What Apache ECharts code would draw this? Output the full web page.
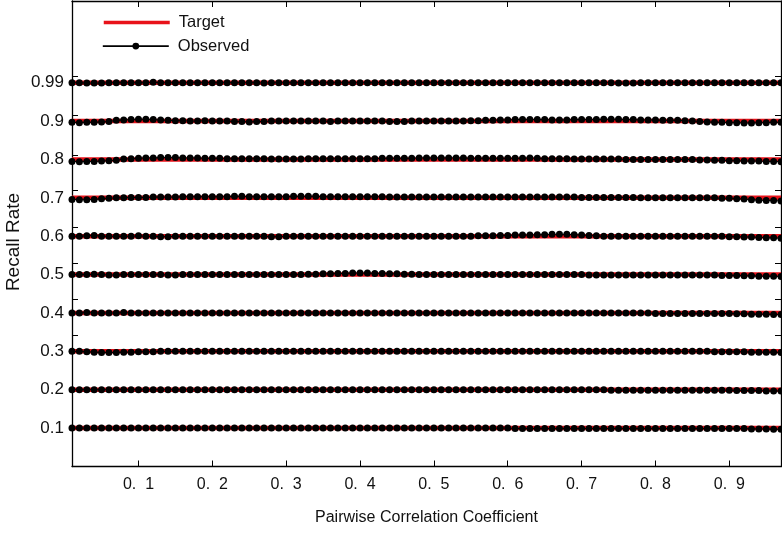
<!DOCTYPE html>
<html>
<head>
<meta charset="utf-8">
<script src="https://cdn.jsdelivr.net/npm/echarts@6/dist/echarts.min.js"></script>
<style>
html,body{margin:0;padding:0;background:#fff;}
#chart{width:782px;height:540px;}
</style>
</head>
<body>
<div id="chart"></div>
<script>
// ---- data ----
const xs = [0.01,0.02,0.03,0.04,0.05,0.06,0.07,0.08,0.09,0.10,
0.11,0.12,0.13,0.14,0.15,0.16,0.17,0.18,0.19,0.20,
0.21,0.22,0.23,0.24,0.25,0.26,0.27,0.28,0.29,0.30,
0.31,0.32,0.33,0.34,0.35,0.36,0.37,0.38,0.39,0.40,
0.41,0.42,0.43,0.44,0.45,0.46,0.47,0.48,0.49,0.50,
0.51,0.52,0.53,0.54,0.55,0.56,0.57,0.58,0.59,0.60,
0.61,0.62,0.63,0.64,0.65,0.66,0.67,0.68,0.69,0.70,
0.71,0.72,0.73,0.74,0.75,0.76,0.77,0.78,0.79,0.80,
0.81,0.82,0.83,0.84,0.85,0.86,0.87,0.88,0.89,0.90,
0.91,0.92,0.93,0.94,0.95,0.96,0.97];

const targets = [0.1,0.2,0.3,0.4,0.5,0.6,0.7,0.8,0.9,0.99];
const yLabels = ['0.1','0.2','0.3','0.4','0.5','0.6','0.7','0.8','0.9','0.99'];
const xTickValues = [0.1,0.2,0.3,0.4,0.5,0.6,0.7,0.8,0.9];
const xLabels = ['0.  1','0.  2','0.  3','0.  4','0.  5','0.  6','0.  7','0.  8','0.  9'];

const obs10 = [0.100,0.100,0.100,0.100,0.100,0.100,0.100,0.100,0.100,0.100,
0.100,0.100,0.100,0.100,0.100,0.100,0.100,0.100,0.100,0.100,
0.100,0.100,0.100,0.100,0.100,0.100,0.100,0.100,0.100,0.100,
0.100,0.100,0.100,0.100,0.100,0.100,0.100,0.100,0.100,0.100,
0.100,0.100,0.100,0.100,0.100,0.100,0.100,0.100,0.100,0.100,
0.100,0.100,0.100,0.100,0.100,0.100,0.100,0.100,0.100,0.100,
0.099,0.099,0.099,0.099,0.099,0.099,0.099,0.099,0.099,0.099,
0.099,0.099,0.099,0.099,0.099,0.099,0.099,0.099,0.099,0.099,
0.099,0.099,0.099,0.099,0.099,0.099,0.099,0.099,0.099,0.099,
0.099,0.099,0.098,0.098,0.098,0.097,0.097];

const obs20 = [0.200,0.200,0.200,0.200,0.200,0.200,0.200,0.200,0.200,0.200,
0.200,0.200,0.200,0.200,0.200,0.200,0.200,0.200,0.200,0.200,
0.200,0.200,0.200,0.200,0.200,0.200,0.200,0.200,0.200,0.200,
0.200,0.200,0.200,0.200,0.200,0.200,0.200,0.200,0.200,0.200,
0.200,0.200,0.200,0.200,0.200,0.200,0.200,0.200,0.200,0.200,
0.200,0.200,0.200,0.200,0.200,0.200,0.200,0.200,0.200,0.200,
0.200,0.200,0.200,0.200,0.200,0.200,0.200,0.200,0.200,0.200,
0.200,0.200,0.200,0.199,0.199,0.199,0.199,0.199,0.199,0.199,
0.199,0.199,0.199,0.199,0.199,0.199,0.199,0.199,0.199,0.199,
0.198,0.198,0.198,0.198,0.197,0.197,0.197];

const obs30 = [0.300,0.300,0.299,0.298,0.297,0.297,0.297,0.298,0.298,0.299,
0.299,0.299,0.300,0.300,0.300,0.300,0.300,0.300,0.300,0.300,
0.300,0.300,0.300,0.300,0.300,0.300,0.300,0.300,0.300,0.300,
0.300,0.300,0.300,0.300,0.300,0.300,0.300,0.300,0.300,0.300,
0.300,0.300,0.300,0.300,0.300,0.300,0.300,0.300,0.300,0.300,
0.300,0.300,0.300,0.300,0.300,0.300,0.300,0.300,0.300,0.300,
0.300,0.300,0.300,0.300,0.300,0.300,0.300,0.300,0.300,0.300,
0.300,0.300,0.300,0.300,0.300,0.300,0.300,0.300,0.300,0.300,
0.300,0.300,0.300,0.300,0.300,0.300,0.300,0.299,0.299,0.299,
0.299,0.299,0.298,0.298,0.298,0.298,0.297];

const obs40 = [0.400,0.400,0.401,0.400,0.400,0.400,0.400,0.401,0.400,0.400,
0.400,0.400,0.400,0.400,0.400,0.400,0.400,0.400,0.400,0.400,
0.400,0.400,0.400,0.400,0.400,0.400,0.400,0.400,0.400,0.400,
0.400,0.400,0.400,0.400,0.400,0.400,0.400,0.400,0.400,0.400,
0.400,0.400,0.400,0.400,0.400,0.400,0.400,0.400,0.400,0.400,
0.400,0.400,0.400,0.400,0.400,0.400,0.400,0.400,0.400,0.400,
0.400,0.400,0.400,0.400,0.400,0.400,0.400,0.400,0.400,0.400,
0.400,0.400,0.400,0.400,0.400,0.400,0.400,0.400,0.400,0.399,
0.399,0.399,0.399,0.399,0.399,0.399,0.399,0.399,0.399,0.399,
0.398,0.398,0.397,0.397,0.397,0.396,0.396];

const obs50 = [0.500,0.500,0.500,0.501,0.500,0.499,0.499,0.500,0.500,0.500,
0.500,0.500,0.500,0.499,0.499,0.500,0.500,0.500,0.500,0.500,
0.500,0.500,0.500,0.500,0.500,0.500,0.500,0.500,0.500,0.500,
0.500,0.500,0.501,0.501,0.502,0.502,0.503,0.503,0.504,0.504,
0.504,0.503,0.503,0.502,0.502,0.501,0.501,0.500,0.500,0.500,
0.500,0.500,0.500,0.500,0.500,0.500,0.500,0.500,0.500,0.500,
0.500,0.500,0.500,0.500,0.500,0.500,0.500,0.500,0.500,0.500,
0.499,0.499,0.499,0.499,0.499,0.499,0.499,0.499,0.499,0.499,
0.499,0.499,0.499,0.499,0.499,0.499,0.499,0.499,0.498,0.498,
0.498,0.497,0.497,0.496,0.496,0.496,0.495];

const obs60 = [0.600,0.600,0.601,0.602,0.600,0.600,0.600,0.600,0.600,0.601,
0.600,0.600,0.599,0.599,0.600,0.600,0.600,0.600,0.600,0.600,
0.600,0.600,0.600,0.600,0.600,0.600,0.600,0.599,0.599,0.600,
0.600,0.600,0.600,0.600,0.600,0.600,0.600,0.600,0.600,0.600,
0.600,0.600,0.600,0.600,0.600,0.600,0.600,0.600,0.600,0.600,
0.600,0.600,0.600,0.600,0.600,0.601,0.601,0.601,0.602,0.602,
0.603,0.603,0.603,0.604,0.604,0.605,0.605,0.605,0.604,0.603,
0.602,0.601,0.600,0.600,0.600,0.600,0.600,0.600,0.600,0.600,
0.600,0.600,0.600,0.600,0.600,0.600,0.600,0.600,0.600,0.599,
0.599,0.598,0.598,0.597,0.596,0.596,0.595];

const obs70 = [0.696,0.695,0.695,0.696,0.698,0.699,0.700,0.700,0.701,0.701,
0.701,0.702,0.702,0.702,0.702,0.703,0.703,0.703,0.703,0.703,
0.703,0.703,0.704,0.704,0.703,0.703,0.703,0.703,0.703,0.703,
0.704,0.704,0.704,0.704,0.703,0.703,0.703,0.703,0.703,0.703,
0.703,0.703,0.703,0.702,0.702,0.702,0.702,0.702,0.702,0.702,
0.702,0.702,0.702,0.702,0.702,0.702,0.702,0.702,0.702,0.702,
0.702,0.702,0.702,0.702,0.702,0.702,0.702,0.702,0.702,0.701,
0.701,0.701,0.701,0.701,0.701,0.701,0.701,0.700,0.700,0.700,
0.700,0.700,0.700,0.700,0.700,0.700,0.700,0.700,0.699,0.699,
0.698,0.697,0.695,0.694,0.693,0.693,0.692];

const obs80 = [0.795,0.794,0.795,0.795,0.796,0.797,0.798,0.801,0.802,0.803,
0.804,0.804,0.805,0.805,0.805,0.804,0.804,0.804,0.803,0.803,
0.803,0.802,0.802,0.802,0.802,0.802,0.802,0.801,0.801,0.801,
0.801,0.801,0.802,0.802,0.802,0.802,0.802,0.802,0.802,0.802,
0.802,0.802,0.803,0.803,0.803,0.803,0.803,0.804,0.804,0.804,
0.804,0.804,0.804,0.804,0.803,0.803,0.803,0.803,0.803,0.803,
0.803,0.803,0.804,0.803,0.802,0.802,0.802,0.802,0.801,0.801,
0.801,0.801,0.801,0.801,0.801,0.800,0.800,0.800,0.800,0.800,
0.800,0.800,0.800,0.800,0.800,0.799,0.799,0.798,0.798,0.797,
0.797,0.796,0.796,0.796,0.795,0.795,0.794];

const obs90 = [0.897,0.896,0.897,0.897,0.898,0.899,0.902,0.903,0.904,0.905,
0.905,0.904,0.903,0.902,0.901,0.901,0.900,0.900,0.901,0.900,
0.900,0.900,0.899,0.899,0.898,0.899,0.899,0.900,0.900,0.900,
0.900,0.900,0.900,0.900,0.900,0.899,0.900,0.900,0.900,0.900,
0.900,0.900,0.900,0.899,0.899,0.899,0.900,0.900,0.900,0.900,
0.900,0.900,0.900,0.900,0.901,0.901,0.902,0.902,0.903,0.903,
0.904,0.904,0.904,0.904,0.904,0.903,0.903,0.903,0.904,0.904,
0.904,0.904,0.905,0.905,0.905,0.904,0.904,0.903,0.903,0.903,
0.902,0.902,0.902,0.901,0.900,0.899,0.898,0.897,0.897,0.896,
0.896,0.895,0.895,0.896,0.896,0.897,0.897];

const obs99 = [0.990,0.990,0.989,0.989,0.989,0.990,0.990,0.990,0.990,0.990,
0.990,0.991,0.990,0.990,0.990,0.990,0.990,0.990,0.990,0.990,
0.990,0.990,0.990,0.990,0.990,0.990,0.989,0.990,0.990,0.990,
0.990,0.990,0.990,0.990,0.990,0.990,0.990,0.990,0.990,0.990,
0.990,0.990,0.990,0.990,0.990,0.990,0.990,0.990,0.990,0.990,
0.990,0.990,0.990,0.990,0.990,0.990,0.990,0.990,0.990,0.990,
0.990,0.990,0.990,0.990,0.990,0.990,0.990,0.990,0.990,0.990,
0.990,0.990,0.990,0.990,0.989,0.989,0.989,0.990,0.990,0.990,
0.990,0.990,0.990,0.990,0.990,0.990,0.990,0.990,0.990,0.990,
0.990,0.990,0.990,0.990,0.990,0.990,0.990];

const observed = [obs10, obs20, obs30, obs40, obs50, obs60, obs70, obs80, obs90, obs99];

// ---- layout helpers ----
// each target level occupies its own band; deviations are drawn at 0.1 per band
const BAND = 0.1;
function bandPos(k, v) { return (k + 1) + (v - targets[k]) / BAND; }

const FONT = '"Liberation Sans", Arial, Helvetica, sans-serif';
const RED = '#e8121a';

const series = [];
targets.forEach((t, k) => {
  series.push({
    name: 'Target', type: 'line', xAxisIndex: 0, yAxisIndex: 0,
    data: xs.map(x => [x, bandPos(k, t)]),
    symbol: 'none', lineStyle: { color: RED, width: 4.5 }, itemStyle: { color: RED },
    z: 2, silent: true
  });
});
observed.forEach((arr, k) => {
  series.push({
    name: 'Observed', type: 'line', xAxisIndex: 0, yAxisIndex: 0,
    data: arr.map((v, i) => [xs[i], bandPos(k, v)]),
    symbol: 'circle', symbolSize: 7,
    lineStyle: { color: '#000', width: 1 }, itemStyle: { color: '#000' },
    z: 3, silent: true, clip: false
  });
});

// tick positions on the y frame (band units)
const yTickPos = [3.410, 4.357, 5.304, 6.243, 7.201, 8.114, 9.157, 10.157];

const legendText = { fontFamily: FONT, fontSize: 16.5, color: '#111', padding: [0, 0, 0, 4] };

const chart = echarts.init(document.getElementById('chart'), null, { renderer: 'canvas' });
chart.setOption({
  animation: false,
  backgroundColor: '#fff',
  grid: { left: 72, right: 1, top: 1, bottom: 73.5, containLabel: false },
  legend: [
    { data: [{ name: 'Target', itemStyle: { opacity: 0 }, lineStyle: { width: 3.5, color: RED } }],
      left: 102, top: 14, orient: 'vertical', padding: 0,
      itemWidth: 66, itemHeight: 8.5, selectedMode: false, textStyle: legendText },
    { data: [{ name: 'Observed', lineStyle: { width: 1.6, color: '#000' } }],
      left: 102, top: 37.6, orient: 'vertical', padding: 0,
      itemWidth: 66, itemHeight: 8.5, selectedMode: false, textStyle: legendText }
  ],
  xAxis: [
    { type: 'value', position: 'bottom', min: 0.01, max: 0.97,
      name: 'Pairwise Correlation Coefficient', nameLocation: 'middle', nameGap: 43,
      nameTextStyle: { fontFamily: FONT, fontSize: 16, color: '#111' },
      axisLine: { show: true, lineStyle: { color: '#000', width: 1.3 } },
      axisTick: { show: true, inside: true, length: 6, customValues: xTickValues, lineStyle: { color: '#000' } },
      axisLabel: { show: true, customValues: xTickValues, margin: 10, fontFamily: FONT, fontSize: 16, color: '#111',
        formatter: v => xLabels[xTickValues.findIndex(t => Math.abs(t - v) < 1e-6)] },
      splitLine: { show: false } },
    { type: 'value', position: 'top', min: 0.01, max: 0.97,
      axisLine: { show: true, onZero: false, lineStyle: { color: '#000', width: 1.3 } },
      axisTick: { show: true, inside: true, length: 6, customValues: xTickValues, lineStyle: { color: '#000' } },
      axisLabel: { show: false }, splitLine: { show: false } }
  ],
  yAxis: [
    { type: 'value', position: 'left', min: 0, max: 12.13,
      axisLine: { show: true, onZero: false, lineStyle: { color: '#000', width: 1.3 } },
      axisTick: { show: true, inside: true, length: 6, customValues: yTickPos, lineStyle: { color: '#000' } },
      axisLabel: { show: true, customValues: [1,2,3,4,5,6,7,8,9,10], margin: 8, fontFamily: FONT, fontSize: 17, color: '#111',
        formatter: v => yLabels[Math.round(v) - 1] },
      splitLine: { show: false } },
    { type: 'value', position: 'right', min: 0, max: 12.13,
      axisLine: { show: true, onZero: false, lineStyle: { color: '#000', width: 1.3 } },
      axisTick: { show: true, inside: true, length: 6, customValues: yTickPos, lineStyle: { color: '#000' } },
      axisLabel: { show: false }, splitLine: { show: false } }
  ],
  graphic: [
    { type: 'text', x: 14, y: 242, rotation: Math.PI / 2,
      style: { text: 'Recall Rate', fontFamily: FONT, fontSize: 19, fill: '#111',
        textAlign: 'center', textVerticalAlign: 'middle' } }
  ],
  series: series
});
</script>
</body>
</html>
